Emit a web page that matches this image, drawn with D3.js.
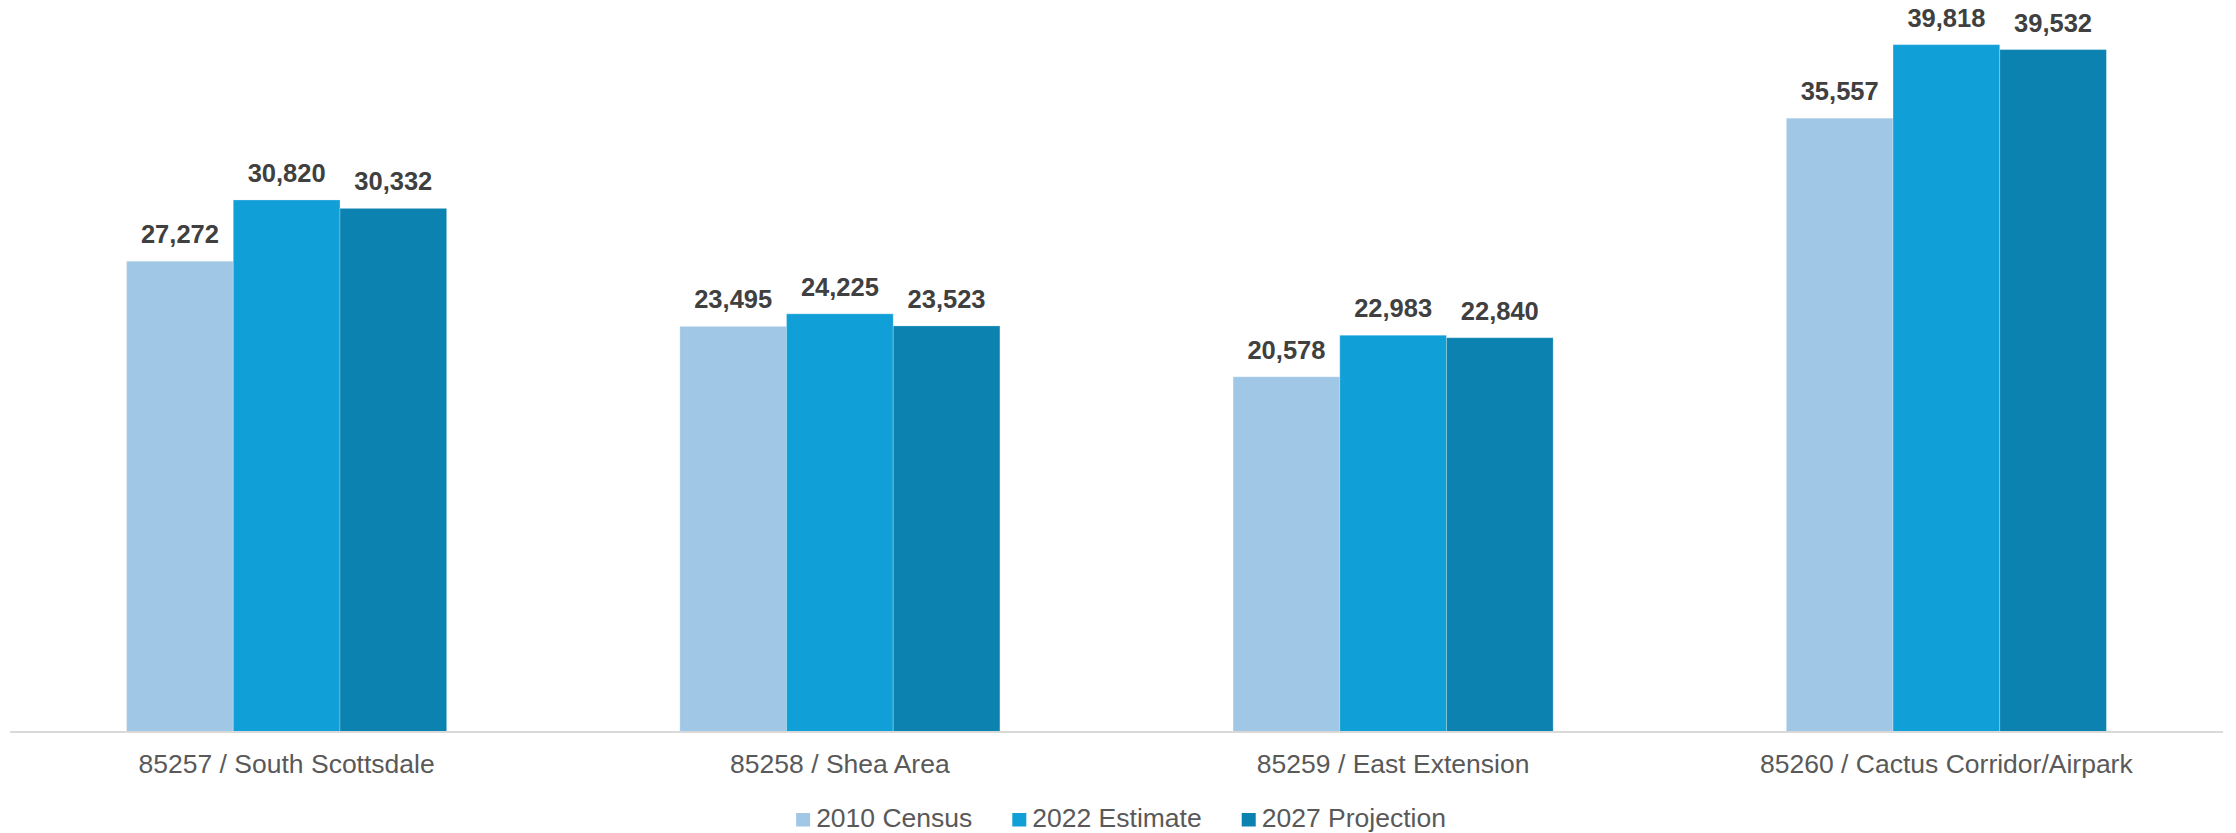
<!DOCTYPE html>
<html>
<head>
<meta charset="utf-8">
<script src="https://cdn.jsdelivr.net/npm/d3@7"></script>
<style>
  html, body { margin: 0; padding: 0; background: #ffffff; }
  svg { display: block; font-family: "Liberation Sans", Arial, sans-serif; }
</style>
</head>
<body>
<svg id="chart" width="2236" height="833"></svg>
<script>
// Population by ZIP code area
const categories = [
  "85257 / South Scottsdale",
  "85258 / Shea Area",
  "85259 / East Extension",
  "85260 / Cactus Corridor/Airpark"
];
const seriesNames = ["2010 Census", "2022 Estimate", "2027 Projection"];
const census2010 = [27272, 23495, 20578, 35557];
const estimate2022 = [30820, 24225, 22983, 39818];
const projection2027 = [30332, 23523, 22840, 39532];
const seriesValues = [census2010, estimate2022, projection2027];
const colors = ["#A0C7E6", "#119FD7", "#0B82B0"];

const svg = d3.select("#chart");
const plotLeft = 10, plotRight = 2223, baseY = 732;

const x0 = d3.scaleBand().domain(categories).range([plotLeft, plotRight]).padding(0);
const x1 = d3.scaleBand().domain(seriesNames).range([0, x0.bandwidth()])
  .paddingInner(0).paddingOuter(1.093);
const y = d3.scaleLinear().domain([0, 40000]).range([baseY, baseY - 690.5]);
const fmt = d3.format(",");

const rows = categories.map((c, i) => ({
  category: c,
  values: seriesNames.map((s, j) => ({ series: s, value: seriesValues[j][i], color: colors[j] }))
}));

const groups = svg.append("g").selectAll("g")
  .data(rows).join("g")
  .attr("transform", d => `translate(${x0(d.category)},0)`);

groups.selectAll("rect")
  .data(d => d.values).join("rect")
  .attr("x", d => x1(d.series))
  .attr("width", x1.bandwidth())
  .attr("y", d => y(d.value))
  .attr("height", d => baseY - y(d.value))
  .attr("fill", d => d.color)
  .attr("stroke", "#ffffff")
  .attr("stroke-opacity", 0.25)
  .attr("stroke-width", 1);

groups.selectAll("text.value")
  .data(d => d.values).join("text")
  .attr("class", "value")
  .attr("x", d => x1(d.series) + x1.bandwidth() / 2)
  .attr("y", d => y(d.value) - 18)
  .attr("text-anchor", "middle")
  .attr("font-size", "25.5px")
  .attr("font-weight", "bold")
  .attr("fill", "#404040")
  .text(d => fmt(d.value));

// Category axis
const xAxis = svg.append("g").attr("transform", `translate(0,${baseY})`)
  .call(d3.axisBottom(x0).tickSize(0).tickPadding(41));
xAxis.select(".domain").attr("stroke", "#D9D9D9").attr("stroke-width", 2)
  .attr("d", `M${plotLeft},0H${plotRight}`);
xAxis.selectAll(".tick text")
  .attr("dy", 0)
  .attr("font-size", "26.5px")
  .attr("font-family", "'Liberation Sans', Arial, sans-serif")
  .attr("fill", "#595959");

// Legend, centred below the axis
const legend = svg.append("g");
let lx = 0;
seriesNames.forEach((s, j) => {
  legend.append("rect")
    .attr("x", lx).attr("y", 813).attr("width", 14).attr("height", 13.5)
    .attr("fill", colors[j]);
  const t = legend.append("text")
    .attr("x", lx + 20).attr("y", 827)
    .attr("font-size", "26.5px")
    .attr("fill", "#595959")
    .text(s);
  lx += 20 + t.node().getComputedTextLength() + 40;
});
const legendWidth = lx - 40;
legend.attr("transform", `translate(${(2236 - legendWidth) / 2 + 3},0)`);
</script>
</body>
</html>
